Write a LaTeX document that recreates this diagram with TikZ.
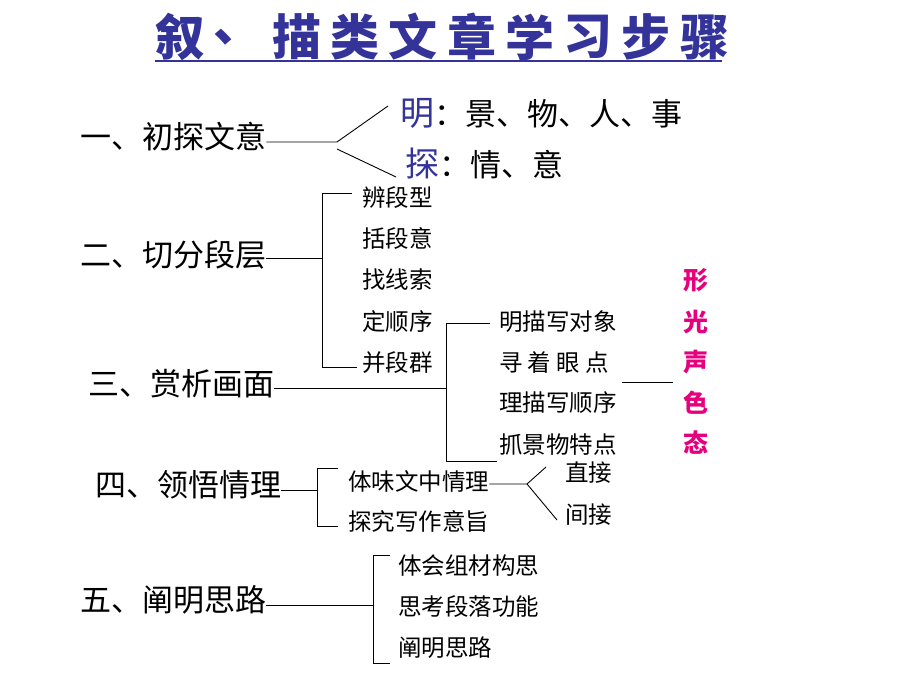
\documentclass[tikz,border=0pt]{standalone}
\usepackage{fontspec}
\setmainfont{Noto Sans CJK SC}
\definecolor{tblue}{RGB}{51,51,153}
\definecolor{mag}{RGB}{230,0,126}
\begin{document}
\begin{tikzpicture}[x=1pt,y=-1pt,
 mainitem/.style={anchor=west,inner sep=0pt,font=\fontsize{31}{31}\selectfont},
 subitem/.style={anchor=west,inner sep=0pt,font=\fontsize{23.5}{23.5}\selectfont},
 ttl/.style={inner sep=0pt,text=tblue,font=\fontsize{49}{49}\selectfont\bfseries},
 colr/.style={inner sep=0pt,text=mag,font=\fontsize{25}{25}\selectfont\bfseries},
 conn/.style={line width=0.9pt}]
\useasboundingbox[fill=white] (0,0) rectangle (920,690);
% title
\foreach \c [count=\i from 0] in {叙,、,描,类,文,章,学,习,步,骤}
  \node[ttl] (t\i) at (180+58.3*\i,37) {\c};
\coordinate (ul1) at (155,61);
\coordinate (ul2) at (722,61);
\draw[tblue,line width=1.5pt] (ul1) -- (ul2);
% 1
\node[mainitem] (m1) at (80,137) {一、初探文意};
\node[mainitem] (m1a) at (400,113) {{\color{tblue}\fontsize{34}{34}\selectfont 明}：景、物、人、事};
\node[mainitem] (m1b) at (405,163) {{\color{tblue}\fontsize{34}{34}\selectfont 探}：情、意};
\coordinate (j1) at (337,142);
\coordinate (j1b) at (337,149);
\coordinate (e1a) at (388,106);
\coordinate (e1b) at (396,177);
\draw[conn] (m1.east |- j1) -- (j1) -- (e1a);
\draw[conn] (j1b) -- (e1b);
% 2
\node[mainitem] (m2) at (80,255) {二、切分段层};
\node[subitem] (s21) at (362,198) {辨段型};
\node[subitem] (s22) at (362,239) {括段意};
\node[subitem] (s23) at (362,280) {找线索};
\node[subitem] (s24) at (362,322) {定顺序};
\node[subitem] (s25) at (362,363) {并段群};
\coordinate (b2t) at (322,193);
\coordinate (b2b) at (322,367);
\coordinate (b2m) at (322,258);
\draw[conn] (m2.east |- b2m) -- (b2m);
\draw[conn] (352,193) -- (b2t) -- (b2b) -- (357,367);
% 3
\node[mainitem] (m3) at (88,384) {三、赏析画面};
\node[subitem] (s31) at (499,322) {明描写对象};
\node[subitem] (s32) at (499,363) {寻 着 眼 点};
\node[subitem] (s33) at (499,403) {理描写顺序};
\node[subitem] (s34) at (499,445) {抓景物特点};
\coordinate (b3t) at (446,323);
\coordinate (b3b) at (446,461);
\coordinate (b3m) at (446,388);
\draw[conn] (m3.east |- b3m) -- (b3m);
\draw[conn] (490,323) -- (b3t) -- (b3b) -- (497,461);
\coordinate (c3a) at (622,382);
\coordinate (c3b) at (673,382);
\draw[conn] (c3a) -- (c3b);
\node[colr] (k1) at (696,280) {形};
\node[colr] (k2) at (696,322) {光};
\node[colr] (k3) at (696,362) {声};
\node[colr] (k4) at (696,403) {色};
\node[colr] (k5) at (696,443) {态};
% 4
\node[mainitem] (m4) at (95,485) {四、领悟情理};
\node[subitem] (s41) at (348,481) {体味文中情理};
\node[subitem] (s42) at (348,521) {探究写作意旨};
\coordinate (b4t) at (317,468);
\coordinate (b4b) at (317,526);
\coordinate (b4m) at (317,490);
\draw[conn] (m4.east |- b4m) -- (b4m);
\draw[conn] (338,468) -- (b4t) -- (b4b) -- (338,526);
\node[subitem] (d1) at (565,473) {直接};
\node[subitem] (d2) at (565,515) {间接};
\coordinate (j4) at (527,484);
\coordinate (e4a) at (546,467);
\coordinate (e4b) at (557,520);
\draw[conn] (s41.east |- j4) -- (j4) -- (e4a);
\draw[conn] (j4) -- (e4b);
% 5
\node[mainitem] (m5) at (80,600) {五、阐明思路};
\node[subitem] (s51) at (398,566) {体会组材构思};
\node[subitem] (s52) at (398,607) {思考段落功能};
\node[subitem] (s53) at (398,648) {阐明思路};
\coordinate (b5t) at (373,555);
\coordinate (b5b) at (373,663);
\coordinate (b5m) at (373,605);
\draw[conn] (m5.east |- b5m) -- (b5m);
\draw[conn] (390,555) -- (b5t) -- (b5b) -- (390,663);
\end{tikzpicture}
\end{document}
